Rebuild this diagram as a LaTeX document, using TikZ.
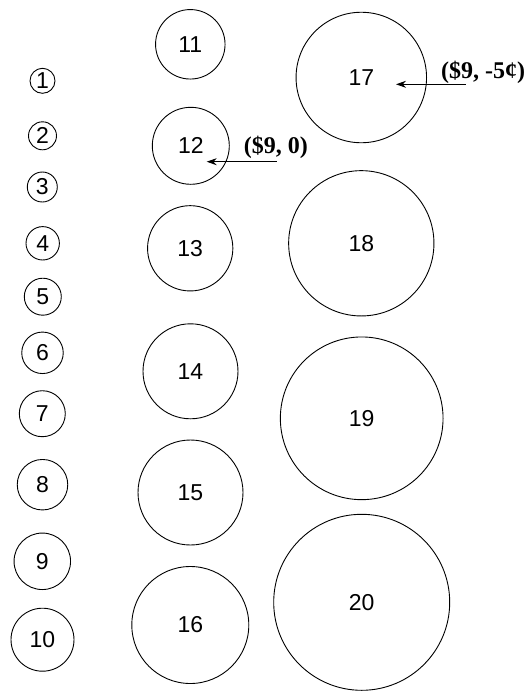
\documentclass[tikz,border=0pt]{standalone}
\usepackage{fontspec}
\setmainfont{Liberation Serif}
\newfontfamily\numfont{Liberation Sans}
\usetikzlibrary{arrows.meta}
\begin{document}
\begin{tikzpicture}[x=1pt,y=-1pt,
  ring/.style={draw, circle, inner sep=0pt, line width=0.9pt, font=\numfont\fontsize{23}{23}\selectfont},
  lab/.style={font=\bfseries\fontsize{24}{24}\selectfont, inner sep=0pt},
  arr/.style={-{Stealth[length=10pt,width=7pt]}, line width=0.9pt}]
\useasboundingbox (0,0) rectangle (529,691);
% left column
\node[ring, minimum size=25pt] (c1) at (42.5,80.8) {1};
\node[ring, minimum size=28pt] (c2) at (42.5,135.8) {2};
\node[ring, minimum size=30pt] (c3) at (42.3,187) {3};
\node[ring, minimum size=33.4pt] (c4) at (42.7,243.3) {4};
\node[ring, minimum size=37pt] (c5) at (42.8,296.7) {5};
\node[ring, minimum size=41.5pt] (c6) at (42.5,352.8) {6};
\node[ring, minimum size=46pt] (c7) at (42.3,413.7) {7};
\node[ring, minimum size=50.5pt] (c8) at (42.5,484.7) {8};
\node[ring, minimum size=56.5pt] (c9) at (42.3,561.3) {9};
\node[ring, minimum size=63pt] (c10) at (42.5,639.7) {10};
% middle column
\node[ring, minimum size=69.5pt] (c11) at (190.3,44.3) {11};
\node[ring, minimum size=77pt] (c12) at (190.8,145.8) {12};
\node[ring, minimum size=85.3pt] (c13) at (190.2,248.3) {13};
\node[ring, minimum size=95pt] (c14) at (190.5,371.3) {14};
\node[ring, minimum size=105pt] (c15) at (190.5,492.5) {15};
\node[ring, minimum size=117pt] (c16) at (190.3,625) {16};
% right column
\node[ring, minimum size=130.5pt] (c17) at (361.3,77.5) {17};
\node[ring, minimum size=145.3pt] (c18) at (361.3,243.3) {18};
\node[ring, minimum size=162.7pt] (c19) at (361.7,418.3) {19};
\node[ring, minimum size=176pt] (c20) at (361.7,602.3) {20};
% labels and arrows
\node[lab] (l12) at (275.8,147.5) {(\$9, 0)};
\node[lab] (l17) at (483,72.5) {(\$9, -5¢)};
\coordinate (s12) at (276.7,161.7);
\coordinate (t12) at (206.7,161.7);
\coordinate (s17) at (465.7,84.3);
\coordinate (t17) at (396,84.3);
\draw[arr] (s12) -- (t12);
\draw[arr] (s17) -- (t17);
\end{tikzpicture}
\end{document}
